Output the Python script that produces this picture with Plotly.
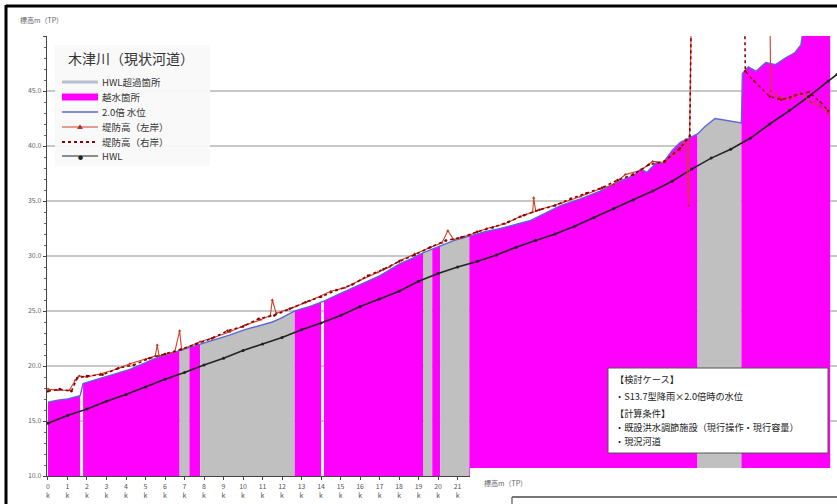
import plotly.graph_objects as go

W, H = 837, 504
ML, MR, MT, MB = 47, 0, 36, 28
PW, PH = W - ML - MR, H - MT - MB

FONT = "Noto Sans CJK JP"

# ---- data -------------------------------------------------------------
# distance from river mouth (km) and water level for S13.7 x2.0 rainfall (T.P. m)
wl_km = [0.0, 0.5, 1.0, 1.65, 1.8, 2.7, 3.5, 4.2, 5.0, 5.5, 6.2, 6.75, 7.25, 7.8,
         8.5, 9.3, 10.1, 10.9, 11.5, 11.9, 12.65, 13.4, 14.0, 14.15, 15.0, 16.0,
         17.0, 18.05, 18.7, 19.25, 19.7, 20.1, 20.8, 21.6, 22.4, 23.2, 24.0, 24.7,
         25.5, 26.3, 27.3, 28.3, 29.3, 30.0, 30.4, 30.7, 31.2, 31.5, 32.0, 32.4,
         33.3, 33.7, 34.2, 34.6, 35.0, 35.55, 35.6, 35.9, 36.3, 36.8, 37.3, 37.8,
         38.3, 38.6, 38.75, 40.1]
wl_m = [16.7, 16.9, 17.0, 17.3, 18.4, 18.9, 19.3, 19.7, 20.3, 20.7, 21.1, 21.4,
        21.7, 22.0, 22.4, 22.8, 23.3, 23.7, 24.0, 24.3, 25.0, 25.4, 25.8, 25.9,
        26.6, 27.4, 28.2, 29.3, 29.8, 30.3, 30.6, 30.9, 31.4, 31.8, 32.2, 32.5,
        32.9, 33.2, 33.9, 34.6, 35.2, 35.9, 36.8, 37.3, 37.9, 37.6, 38.5, 38.4,
        39.6, 40.3, 41.1, 41.8, 42.5, 42.4, 42.3, 42.1, 46.6, 47.2, 46.8, 47.6,
        47.4, 48.0, 48.5, 49.2, 51.0, 51.0]

# reaches: (start km, end km, kind) - "over" = overtopping, "hwl" = above HWL
zone_start = [0.0, 1.8, 6.75, 7.25, 7.8, 12.65, 14.15, 19.25, 19.7, 20.1, 21.6, 33.3, 35.55]
zone_end = [1.65, 6.75, 7.25, 7.8, 12.65, 14.0, 19.25, 19.7, 20.1, 21.6, 33.3, 35.55, 40.1]
zone_kind = ["over", "over", "hwl", "over", "hwl", "over", "over", "hwl", "over",
             "hwl", "over", "hwl", "over"]

# HWL (T.P. m) at each km post
hwl_km = list(range(41)) + [40.45]
hwl_m = [14.8, 15.5, 16.1, 16.8, 17.4, 18.1, 18.8, 19.4, 20.1, 20.7, 21.4, 22.0,
         22.6, 23.3, 23.9, 24.6, 25.4, 26.1, 26.8, 27.7, 28.4, 29.0, 29.5, 30.1,
         30.8, 31.4, 32.0, 32.7, 33.5, 34.3, 35.1, 35.9, 36.8, 37.9, 38.9, 39.7,
         40.7, 42.0, 43.2, 44.5, 45.9, 46.5]

# levee crown height, left bank
left_km = [0.0, 0.5, 1.1, 1.4, 1.6, 2.0, 2.7, 3.5, 4.2, 5.0, 5.5, 5.6, 5.7, 6.5,
           6.75, 6.85, 7.8, 8.5, 9.3, 10.1, 10.9, 11.4, 11.5, 11.7, 12.7, 13.4,
           14.5, 15.2, 16.0, 16.9, 17.5, 18.05, 18.8, 19.5, 20.2, 20.5, 20.8, 21.6,
           22.5, 23.4, 24.2, 24.85, 24.9, 25.0, 26.3, 27.3, 28.3, 29.0, 29.6, 30.4,
           31.0, 31.6, 32.4, 32.7, 32.85, 33.0, 37.0, 37.05, 37.5, 38.05, 38.6,
           39.1, 39.6, 40.0]
left_m = [17.9, 17.8, 17.8, 18.7, 19.1, 19.0, 19.3, 19.7, 20.2, 20.6, 20.9, 21.9,
          20.9, 21.3, 23.2, 21.5, 22.2, 22.6, 23.1, 23.7, 24.2, 24.6, 26.0, 24.8,
          25.4, 25.9, 26.8, 27.1, 27.8, 28.5, 29.0, 29.6, 30.2, 30.7, 31.2, 32.3,
          31.5, 31.9, 32.5, 32.9, 33.6, 34.0, 35.3, 34.1, 34.8, 35.4, 36.1, 36.5,
          37.4, 37.8, 38.6, 38.5, 39.6, 40.6, 34.6, 55.0, 55.0, 45.0, 44.4, 44.3,
          44.8, 44.0, 43.6, 43.0]

# levee crown height, right bank
right_km = [0.0, 0.6, 1.2, 1.5, 2.0, 2.8, 3.6, 4.4, 5.2, 6.0, 6.8, 7.6, 8.4, 9.2,
            10.0, 10.8, 11.6, 12.4, 13.2, 14.0, 14.8, 15.6, 16.4, 17.2, 18.0,
            18.8, 19.6, 20.4, 21.2, 22.0, 22.8, 23.6, 24.4, 25.2, 26.0, 26.8, 27.6,
            28.4, 29.2, 30.0, 30.8, 31.6, 32.4, 32.9, 33.0, 35.7, 35.75, 36.2,
            37.0, 37.6, 38.3, 39.0, 39.6, 40.0]
right_m = [17.7, 17.9, 17.7, 18.9, 19.1, 19.2, 19.8, 20.1, 20.7, 21.1, 21.5, 22.0,
           22.5, 23.2, 23.6, 24.3, 24.6, 25.2, 25.8, 26.3, 26.9, 27.4, 28.2, 28.8,
           29.5, 30.1, 30.8, 31.4, 31.7, 32.2, 32.6, 33.1, 33.7, 34.2, 34.6, 35.2,
           35.7, 36.2, 36.9, 37.4, 38.3, 38.6, 39.8, 40.9, 55.0, 55.0, 46.8, 45.9,
           44.5, 44.2, 44.6, 44.9, 44.0, 43.2]

y_ticks = [10, 15, 20, 25, 30, 35, 40, 45, 50]
y_ticktext = ["10.0", "15.0", "20.0", "25.0", "30.0", "35.0", "40.0", "45.0", ""]
x_ticks = list(range(41))
# km posts beyond 21 sit under the next figure on the page
x_ticktext = [f"{k}<br>k" if k <= 21 else "" for k in x_ticks]

legend_names = ["HWL超過箇所", "越水箇所", "2.0倍 水位", "堤防高（左岸）", "堤防高（右岸）", "HWL"]

COLORS = {"over": "#ff00ff", "hwl": "#c0c0c0"}
C_WL = "#5a68d8"
C_LEFT = "#d0402a"
C_RIGHT = "#8b0000"
C_HWL = "#222222"


def px(x):
    return (x - ML) / PW


def py(y):
    return (H - MB - y) / PH


fig = go.Figure()

# filled reaches
for s, e, kind in zip(zone_start, zone_end, zone_kind):
    xs = [k for k in wl_km if s <= k <= e]
    ys = [v for k, v in zip(wl_km, wl_m) if s <= k <= e]
    fig.add_trace(go.Scatter(x=xs, y=ys, mode="none", fill="tozeroy",
                             fillcolor=COLORS[kind], showlegend=False,
                             hoverinfo="skip"))

fig.add_trace(go.Scatter(x=hwl_km, y=hwl_m, mode="lines+markers", name="HWL",
                         line=dict(color=C_HWL, width=1.6),
                         marker=dict(size=3, color=C_HWL), showlegend=False))
fig.add_trace(go.Scatter(x=wl_km, y=wl_m, mode="lines", name="2.0倍 水位",
                         line=dict(color=C_WL, width=1.4), showlegend=False))
fig.add_trace(go.Scatter(x=left_km, y=left_m, mode="lines+markers",
                         name="堤防高（左岸）",
                         line=dict(color=C_LEFT, width=1.1),
                         marker=dict(size=3, symbol="triangle-up", color="#b03020"),
                         showlegend=False))
fig.add_trace(go.Scatter(x=right_km, y=right_m, mode="lines+markers",
                         name="堤防高（右岸）",
                         line=dict(color=C_RIGHT, width=1.6, dash="dot"),
                         marker=dict(size=2.5, color=C_RIGHT), showlegend=False))

shapes = [
    # document frame
    dict(type="line", xref="paper", yref="paper", x0=px(6), x1=px(W), y0=py(6), y1=py(6),
         line=dict(color="#000000", width=3), layer="above"),
    dict(type="line", xref="paper", yref="paper", x0=px(6), x1=px(6), y0=py(5), y1=py(H),
         line=dict(color="#000000", width=3), layer="above"),
    # legend panel
    dict(type="rect", xref="paper", yref="paper", x0=px(55), x1=px(210),
         y0=py(166), y1=py(45), fillcolor="rgba(249,249,249,0.95)",
         line=dict(width=0), layer="above"),
    # case description box
    dict(type="rect", xref="paper", yref="paper", x0=px(608), x1=px(828),
         y0=py(453), y1=py(368), fillcolor="#ffffff",
         line=dict(color="#555555", width=1), layer="above"),
    # next figure on the page
    dict(type="rect", xref="paper", yref="paper", x0=px(470), x1=px(W + 2),
         y0=py(H + 2), y1=py(468), fillcolor="#ffffff", line=dict(width=0),
         layer="above"),
    dict(type="line", xref="paper", yref="paper", x0=px(512), x1=px(W), y0=py(497),
         y1=py(497), line=dict(color="#777777", width=2), layer="above"),
    dict(type="line", xref="paper", yref="paper", x0=px(512), x1=px(512), y0=py(497),
         y1=py(H), line=dict(color="#777777", width=1.5), layer="above"),
]

# legend samples
leg_y = [82, 97, 112, 127, 142, 156]
leg_lines = [
    dict(color="#b8bfd0", width=3),
    dict(color="#ff00ff", width=7),
    dict(color=C_WL, width=1.5),
    dict(color=C_LEFT, width=1.1),
    dict(color=C_RIGHT, width=2, dash="dot"),
    dict(color=C_HWL, width=1.2),
]
for yy, ln in zip(leg_y, leg_lines):
    shapes.append(dict(type="line", xref="paper", yref="paper", x0=px(62), x1=px(98),
                       y0=py(yy), y1=py(yy), line=ln, layer="above"))

annotations = []
for yy, name in zip(leg_y, legend_names):
    annotations.append(dict(text=name, xref="paper", yref="paper", x=px(100), y=py(yy),
                            xanchor="left", yanchor="middle", showarrow=False,
                            font=dict(family=FONT, size=9.5, color="#333333")))
for yy, sym, col, sz in [(127, "▲", "#b03020", 6), (156, "●", C_HWL, 5)]:
    annotations.append(dict(text=sym, xref="paper", yref="paper", x=px(80), y=py(yy),
                            xanchor="center", yanchor="middle", showarrow=False,
                            font=dict(family=FONT, size=sz, color=col)))
annotations.append(dict(text="木津川（現状河道）", xref="paper", yref="paper",
                        x=px(66), y=py(58), xanchor="left", yanchor="middle",
                        showarrow=False,
                        font=dict(family=FONT, size=14, color="#333333")))

box_lines = [
    ("【検討ケース】", 379),
    ("・S13.7型降雨×2.0倍時の水位", 396),
    ("【計算条件】", 413),
    ("・既設洪水調節施設（現行操作・現行容量）", 427),
    ("・現況河道", 441),
]
annotations += [
    dict(text=t, xref="paper", yref="paper", x=px(613), y=py(yy), xanchor="left",
         yanchor="middle", showarrow=False,
         font=dict(family=FONT, size=9.2, color="#222222"))
    for t, yy in box_lines
]
annotations += [
    dict(text="標高m（TP）", xref="paper", yref="paper", x=px(18), y=py(20),
         xanchor="left", yanchor="middle", showarrow=False,
         font=dict(family=FONT, size=7, color="#666666")),
    dict(text="標高m（TP）", xref="paper", yref="paper", x=px(482), y=py(483),
         xanchor="left", yanchor="middle", showarrow=False,
         font=dict(family=FONT, size=7, color="#666666")),
]

fig.update_layout(
    width=W, height=H,
    margin=dict(l=ML, r=MR, t=MT, b=MB),
    paper_bgcolor="#ffffff", plot_bgcolor="#ffffff",
    font=dict(family=FONT, size=9, color="#333333"),
    shapes=shapes, annotations=annotations, showlegend=False,
    xaxis=dict(range=[-0.05, 40.45], tickmode="array", tickvals=x_ticks,
               ticktext=x_ticktext, showgrid=False, zeroline=False,
               showline=True, linecolor="#444444", linewidth=1.2,
               ticks="outside", ticklen=3, tickcolor="#444444",
               tickfont=dict(family=FONT, size=7, color="#555555")),
    yaxis=dict(range=[10, 50], tickmode="array", tickvals=y_ticks,
               ticktext=y_ticktext, showgrid=True, gridcolor="#c8c8c8",
               gridwidth=1.5, zeroline=False, showline=True,
               linecolor="#444444", linewidth=1.2, ticks="outside", ticklen=3,
               tickcolor="#444444",
               minor=dict(dtick=1, ticks="outside", ticklen=2, tickcolor="#666666",
                          showgrid=False),
               tickfont=dict(family=FONT, size=7, color="#666666")),
)

fig.write_html("out.html")
